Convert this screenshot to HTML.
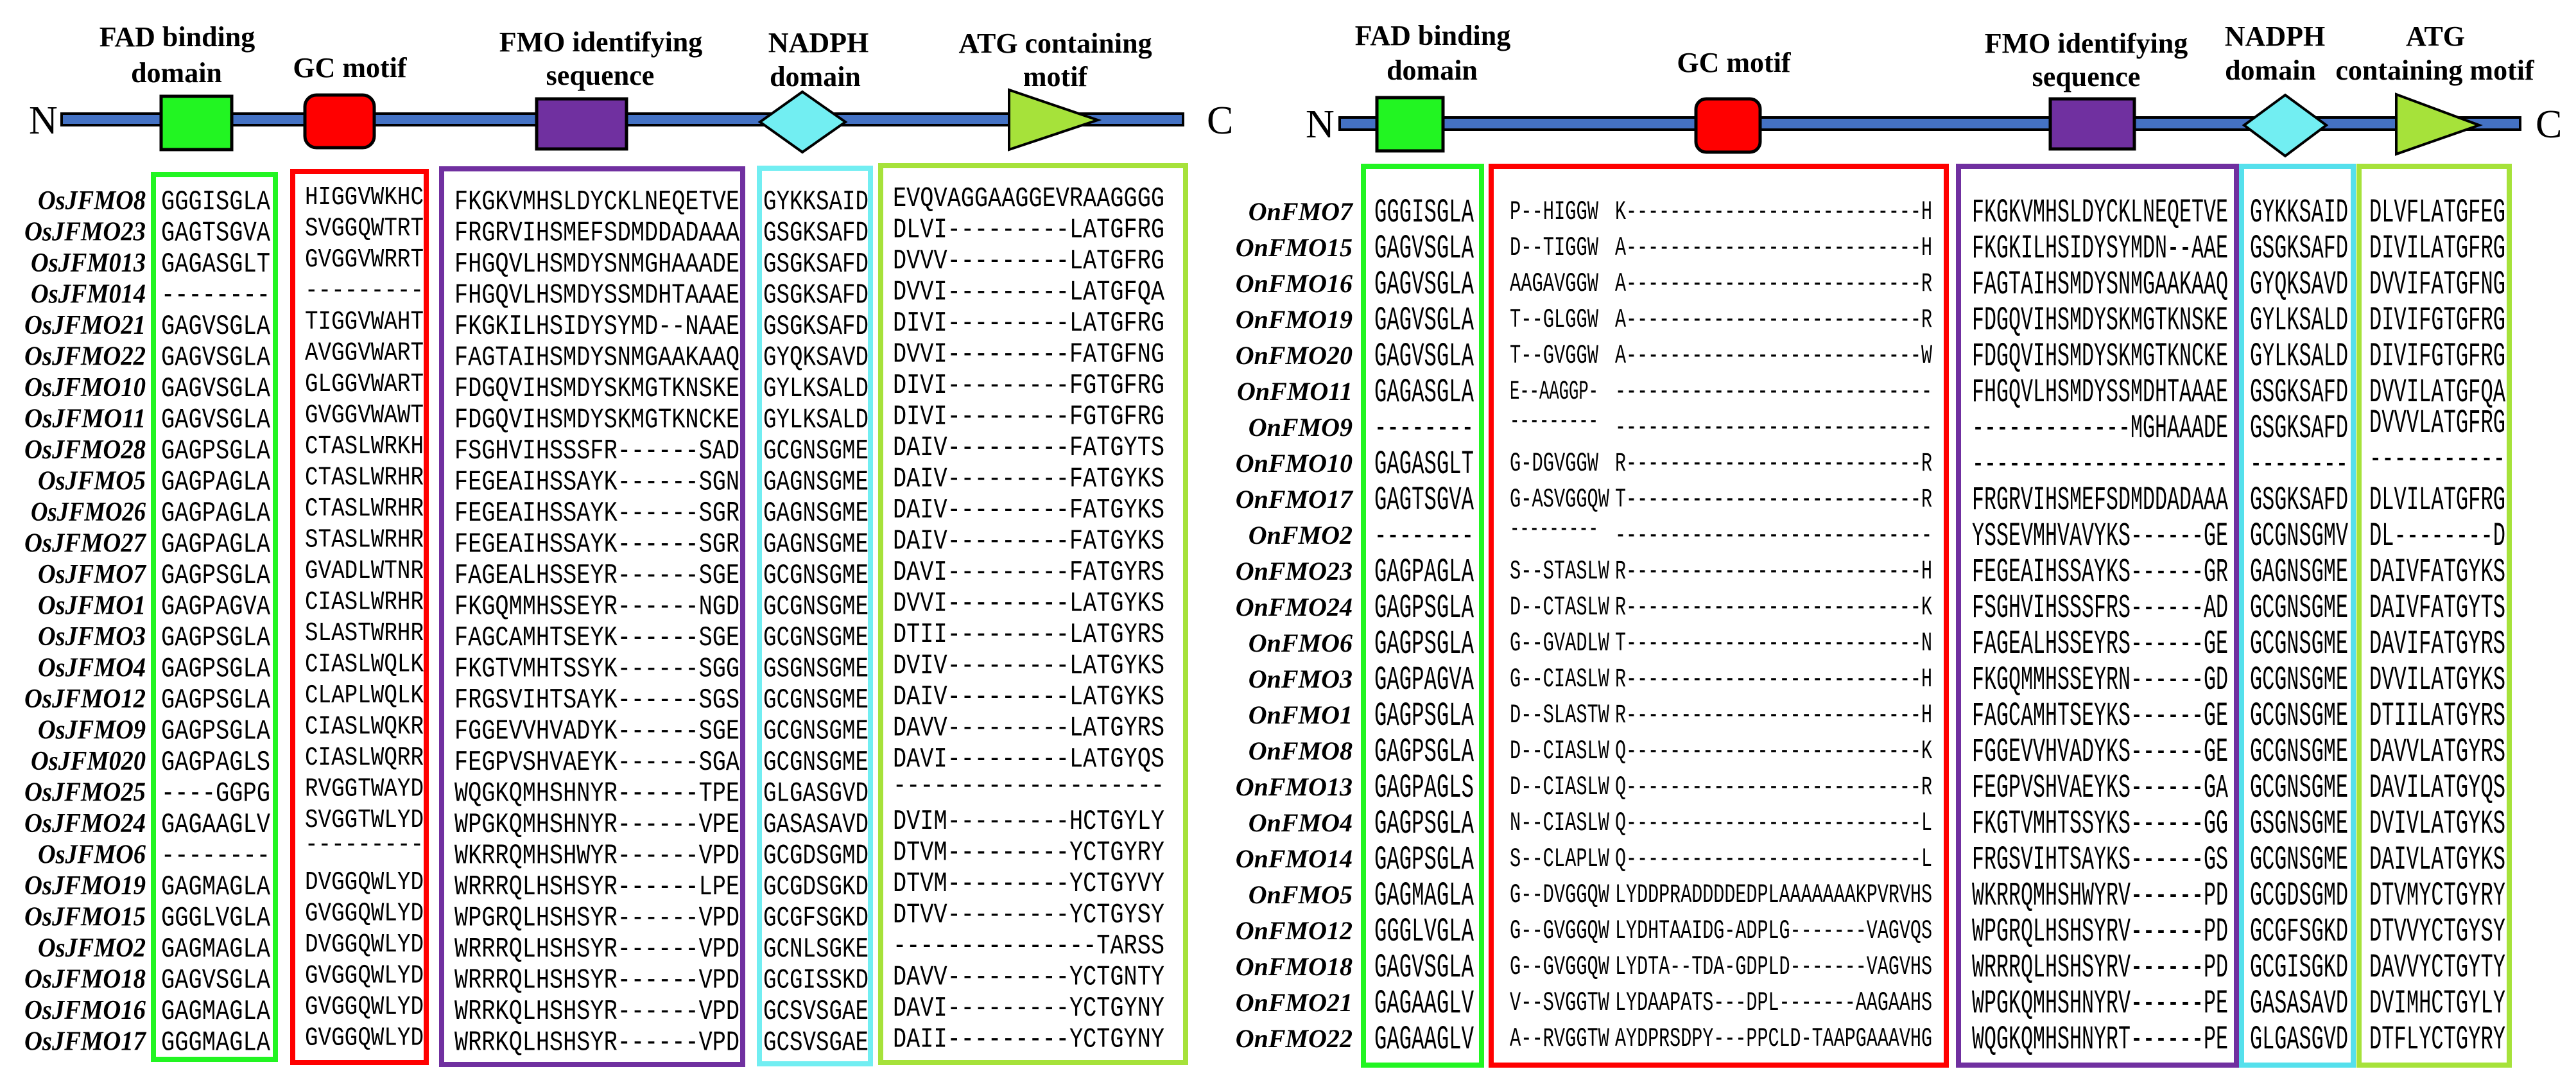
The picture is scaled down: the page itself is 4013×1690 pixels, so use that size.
<!DOCTYPE html>
<html><head><meta charset="utf-8"><style>
html,body{margin:0;padding:0;background:#fff;}
svg{display:block;}
.lab{font-family:"Liberation Serif",serif;font-weight:bold;font-size:44px;text-anchor:middle;fill:#000;}
.nc{font-family:"Liberation Serif",serif;font-size:62px;fill:#000;}
.ln{font-family:"Liberation Serif",serif;font-weight:bold;font-style:italic;font-size:42px;text-anchor:end;fill:#000;}
.rn{font-family:"Liberation Serif",serif;font-weight:bold;font-style:italic;font-size:40px;text-anchor:end;fill:#000;}
.ls{font-family:"Liberation Mono",monospace;font-size:44px;fill:#000;}
.lr{font-family:"Liberation Mono",monospace;font-size:41px;fill:#000;}
.rs{font-family:"Liberation Mono",monospace;font-size:52px;fill:#000;}
.rr{font-family:"Liberation Mono",monospace;font-size:42px;fill:#000;}
</style></head><body>
<svg width="4013" height="1690" viewBox="0 0 4013 1690" xmlns="http://www.w3.org/2000/svg">
<rect width="4013" height="1690" fill="#fff"/>
<!-- LEFT header -->
<text class="lab" x="276" y="72">FAD binding</text>
<text class="lab" x="275" y="128">domain</text>
<text class="lab" x="545" y="120">GC motif</text>
<text class="lab" x="936" y="80">FMO identifying</text>
<text class="lab" x="935" y="132">sequence</text>
<text class="lab" x="1275" y="81">NADPH</text>
<text class="lab" x="1270" y="134">domain</text>
<text class="lab" x="1644" y="82">ATG containing</text>
<text class="lab" x="1644" y="134">motif</text>
<text class="nc" x="45" y="208">N</text>
<text class="nc" x="1880" y="208">C</text>
<rect x="96" y="177" width="1747" height="18" fill="#4472c4" stroke="#000" stroke-width="4"/>
<rect x="251" y="150" width="110" height="83" fill="#22f522" stroke="#000" stroke-width="5"/>
<rect x="475" y="148" width="108" height="82" rx="18" fill="#ff0000" stroke="#000" stroke-width="5"/>
<rect x="836" y="154" width="140" height="78" fill="#7030a0" stroke="#000" stroke-width="5"/>
<polygon points="1250,143 1317,190 1250,237 1184,190" fill="#72eef2" stroke="#000" stroke-width="4"/>
<polygon points="1572,140 1710,187 1572,233" fill="#a6e23a" stroke="#000" stroke-width="4"/>
<!-- LEFT boxes -->
<rect x="239" y="272" width="190" height="1378" fill="none" stroke="#22f522" stroke-width="8"/>
<rect x="456" y="267" width="208" height="1388" fill="none" stroke="#ff0000" stroke-width="8"/>
<rect x="688" y="263" width="469" height="1395" fill="none" stroke="#7030a0" stroke-width="8"/>
<rect x="1183" y="262" width="173" height="1395" fill="none" stroke="#72eef2" stroke-width="8"/>
<rect x="1372" y="258" width="475" height="1397" fill="none" stroke="#a6e23a" stroke-width="8"/>

<!-- RIGHT header -->
<text class="lab" x="2232" y="70">FAD binding</text>
<text class="lab" x="2231" y="124">domain</text>
<text class="lab" x="2701" y="112">GC motif</text>
<text class="lab" x="3250" y="82">FMO identifying</text>
<text class="lab" x="3250" y="134">sequence</text>
<text class="lab" x="3544" y="71">NADPH</text>
<text class="lab" x="3537" y="124">domain</text>
<text class="lab" x="3794" y="71">ATG</text>
<text class="lab" x="3793" y="124">containing motif</text>
<text class="nc" x="2034" y="214">N</text>
<text class="nc" x="3950" y="214">C</text>
<rect x="2087" y="183" width="1839" height="19" fill="#4472c4" stroke="#000" stroke-width="4"/>
<rect x="2145" y="152" width="103" height="83" fill="#22f522" stroke="#000" stroke-width="5"/>
<rect x="2642" y="154" width="100" height="83" rx="16" fill="#ff0000" stroke="#000" stroke-width="5"/>
<rect x="3194" y="154" width="131" height="78" fill="#7030a0" stroke="#000" stroke-width="5"/>
<polygon points="3560,148 3624,195 3560,243 3496,195" fill="#72eef2" stroke="#000" stroke-width="4"/>
<polygon points="3733,147 3862,195 3733,240" fill="#a6e23a" stroke="#000" stroke-width="4"/>
<rect x="2124" y="259" width="184" height="1400" fill="none" stroke="#22f522" stroke-width="8"/>
<rect x="2323" y="259" width="709" height="1400" fill="none" stroke="#ff0000" stroke-width="8"/>
<rect x="3051" y="259" width="433" height="1400" fill="none" stroke="#7030a0" stroke-width="8"/>
<rect x="3492" y="259" width="174" height="1400" fill="none" stroke="#55e0ec" stroke-width="8"/>
<rect x="3675" y="259" width="234" height="1400" fill="none" stroke="#a6e23a" stroke-width="8"/>

<!-- LEFT rows -->
<g lengthAdjust="spacingAndGlyphs">
<g transform="translate(0,326)"><text class="ln" x="227" textLength="168" lengthAdjust="spacingAndGlyphs">OsJFMO8</text><text class="ls" x="251" textLength="170" lengthAdjust="spacingAndGlyphs">GGGISGLA</text><text class="lr" x="475" y="-8" textLength="185" lengthAdjust="spacingAndGlyphs">HIGGVWKHC</text><text class="ls" x="708" textLength="444" lengthAdjust="spacingAndGlyphs">FKGKVMHSLDYCKLNEQETVE</text><text class="ls" x="1189" textLength="164" lengthAdjust="spacingAndGlyphs">GYKKSAID</text><text class="ls" x="1391" y="-5" textLength="423" lengthAdjust="spacingAndGlyphs">EVQVAGGAAGGEVRAAGGGG</text></g>
<g transform="translate(0,374.5)"><text class="ln" x="227" textLength="189" lengthAdjust="spacingAndGlyphs">OsJFMO23</text><text class="ls" x="251" textLength="170" lengthAdjust="spacingAndGlyphs">GAGTSGVA</text><text class="lr" x="475" y="-8" textLength="185" lengthAdjust="spacingAndGlyphs">SVGGQWTRT</text><text class="ls" x="708" textLength="444" lengthAdjust="spacingAndGlyphs">FRGRVIHSMEFSDMDDADAAA</text><text class="ls" x="1189" textLength="164" lengthAdjust="spacingAndGlyphs">GSGKSAFD</text><text class="ls" x="1391" y="-5" textLength="423" lengthAdjust="spacingAndGlyphs">DLVI---------LATGFRG</text></g>
<g transform="translate(0,423)"><text class="ln" x="227" textLength="179" lengthAdjust="spacingAndGlyphs">OsJFM013</text><text class="ls" x="251" textLength="170" lengthAdjust="spacingAndGlyphs">GAGASGLT</text><text class="lr" x="475" y="-8" textLength="185" lengthAdjust="spacingAndGlyphs">GVGGVWRRT</text><text class="ls" x="708" textLength="444" lengthAdjust="spacingAndGlyphs">FHGQVLHSMDYSNMGHAAADE</text><text class="ls" x="1189" textLength="164" lengthAdjust="spacingAndGlyphs">GSGKSAFD</text><text class="ls" x="1391" y="-5" textLength="423" lengthAdjust="spacingAndGlyphs">DVVV---------LATGFRG</text></g>
<g transform="translate(0,471.5)"><text class="ln" x="227" textLength="179" lengthAdjust="spacingAndGlyphs">OsJFM014</text><text class="ls" x="251" textLength="170" lengthAdjust="spacingAndGlyphs">--------</text><text class="lr" x="475" y="-8" textLength="185" lengthAdjust="spacingAndGlyphs">---------</text><text class="ls" x="708" textLength="444" lengthAdjust="spacingAndGlyphs">FHGQVLHSMDYSSMDHTAAAE</text><text class="ls" x="1189" textLength="164" lengthAdjust="spacingAndGlyphs">GSGKSAFD</text><text class="ls" x="1391" y="-5" textLength="423" lengthAdjust="spacingAndGlyphs">DVVI---------LATGFQA</text></g>
<g transform="translate(0,520)"><text class="ln" x="227" textLength="189" lengthAdjust="spacingAndGlyphs">OsJFMO21</text><text class="ls" x="251" textLength="170" lengthAdjust="spacingAndGlyphs">GAGVSGLA</text><text class="lr" x="475" y="-8" textLength="185" lengthAdjust="spacingAndGlyphs">TIGGVWAHT</text><text class="ls" x="708" textLength="444" lengthAdjust="spacingAndGlyphs">FKGKILHSIDYSYMD--NAAE</text><text class="ls" x="1189" textLength="164" lengthAdjust="spacingAndGlyphs">GSGKSAFD</text><text class="ls" x="1391" y="-5" textLength="423" lengthAdjust="spacingAndGlyphs">DIVI---------LATGFRG</text></g>
<g transform="translate(0,568.5)"><text class="ln" x="227" textLength="189" lengthAdjust="spacingAndGlyphs">OsJFMO22</text><text class="ls" x="251" textLength="170" lengthAdjust="spacingAndGlyphs">GAGVSGLA</text><text class="lr" x="475" y="-8" textLength="185" lengthAdjust="spacingAndGlyphs">AVGGVWART</text><text class="ls" x="708" textLength="444" lengthAdjust="spacingAndGlyphs">FAGTAIHSMDYSNMGAAKAAQ</text><text class="ls" x="1189" textLength="164" lengthAdjust="spacingAndGlyphs">GYQKSAVD</text><text class="ls" x="1391" y="-5" textLength="423" lengthAdjust="spacingAndGlyphs">DVVI---------FATGFNG</text></g>
<g transform="translate(0,617)"><text class="ln" x="227" textLength="189" lengthAdjust="spacingAndGlyphs">OsJFMO10</text><text class="ls" x="251" textLength="170" lengthAdjust="spacingAndGlyphs">GAGVSGLA</text><text class="lr" x="475" y="-8" textLength="185" lengthAdjust="spacingAndGlyphs">GLGGVWART</text><text class="ls" x="708" textLength="444" lengthAdjust="spacingAndGlyphs">FDGQVIHSMDYSKMGTKNSKE</text><text class="ls" x="1189" textLength="164" lengthAdjust="spacingAndGlyphs">GYLKSALD</text><text class="ls" x="1391" y="-5" textLength="423" lengthAdjust="spacingAndGlyphs">DIVI---------FGTGFRG</text></g>
<g transform="translate(0,665.5)"><text class="ln" x="227" textLength="189" lengthAdjust="spacingAndGlyphs">OsJFMO11</text><text class="ls" x="251" textLength="170" lengthAdjust="spacingAndGlyphs">GAGVSGLA</text><text class="lr" x="475" y="-8" textLength="185" lengthAdjust="spacingAndGlyphs">GVGGVWAWT</text><text class="ls" x="708" textLength="444" lengthAdjust="spacingAndGlyphs">FDGQVIHSMDYSKMGTKNCKE</text><text class="ls" x="1189" textLength="164" lengthAdjust="spacingAndGlyphs">GYLKSALD</text><text class="ls" x="1391" y="-5" textLength="423" lengthAdjust="spacingAndGlyphs">DIVI---------FGTGFRG</text></g>
<g transform="translate(0,714)"><text class="ln" x="227" textLength="189" lengthAdjust="spacingAndGlyphs">OsJFMO28</text><text class="ls" x="251" textLength="170" lengthAdjust="spacingAndGlyphs">GAGPSGLA</text><text class="lr" x="475" y="-8" textLength="185" lengthAdjust="spacingAndGlyphs">CTASLWRKH</text><text class="ls" x="708" textLength="444" lengthAdjust="spacingAndGlyphs">FSGHVIHSSSFR------SAD</text><text class="ls" x="1189" textLength="164" lengthAdjust="spacingAndGlyphs">GCGNSGME</text><text class="ls" x="1391" y="-5" textLength="423" lengthAdjust="spacingAndGlyphs">DAIV---------FATGYTS</text></g>
<g transform="translate(0,762.5)"><text class="ln" x="227" textLength="168" lengthAdjust="spacingAndGlyphs">OsJFMO5</text><text class="ls" x="251" textLength="170" lengthAdjust="spacingAndGlyphs">GAGPAGLA</text><text class="lr" x="475" y="-8" textLength="185" lengthAdjust="spacingAndGlyphs">CTASLWRHR</text><text class="ls" x="708" textLength="444" lengthAdjust="spacingAndGlyphs">FEGEAIHSSAYK------SGN</text><text class="ls" x="1189" textLength="164" lengthAdjust="spacingAndGlyphs">GAGNSGME</text><text class="ls" x="1391" y="-5" textLength="423" lengthAdjust="spacingAndGlyphs">DAIV---------FATGYKS</text></g>
<g transform="translate(0,811)"><text class="ln" x="227" textLength="179" lengthAdjust="spacingAndGlyphs">OsJFMO26</text><text class="ls" x="251" textLength="170" lengthAdjust="spacingAndGlyphs">GAGPAGLA</text><text class="lr" x="475" y="-8" textLength="185" lengthAdjust="spacingAndGlyphs">CTASLWRHR</text><text class="ls" x="708" textLength="444" lengthAdjust="spacingAndGlyphs">FEGEAIHSSAYK------SGR</text><text class="ls" x="1189" textLength="164" lengthAdjust="spacingAndGlyphs">GAGNSGME</text><text class="ls" x="1391" y="-5" textLength="423" lengthAdjust="spacingAndGlyphs">DAIV---------FATGYKS</text></g>
<g transform="translate(0,859.5)"><text class="ln" x="227" textLength="189" lengthAdjust="spacingAndGlyphs">OsJFMO27</text><text class="ls" x="251" textLength="170" lengthAdjust="spacingAndGlyphs">GAGPAGLA</text><text class="lr" x="475" y="-8" textLength="185" lengthAdjust="spacingAndGlyphs">STASLWRHR</text><text class="ls" x="708" textLength="444" lengthAdjust="spacingAndGlyphs">FEGEAIHSSAYK------SGR</text><text class="ls" x="1189" textLength="164" lengthAdjust="spacingAndGlyphs">GAGNSGME</text><text class="ls" x="1391" y="-5" textLength="423" lengthAdjust="spacingAndGlyphs">DAIV---------FATGYKS</text></g>
<g transform="translate(0,908)"><text class="ln" x="227" textLength="168" lengthAdjust="spacingAndGlyphs">OsJFMO7</text><text class="ls" x="251" textLength="170" lengthAdjust="spacingAndGlyphs">GAGPSGLA</text><text class="lr" x="475" y="-8" textLength="185" lengthAdjust="spacingAndGlyphs">GVADLWTNR</text><text class="ls" x="708" textLength="444" lengthAdjust="spacingAndGlyphs">FAGEALHSSEYR------SGE</text><text class="ls" x="1189" textLength="164" lengthAdjust="spacingAndGlyphs">GCGNSGME</text><text class="ls" x="1391" y="-5" textLength="423" lengthAdjust="spacingAndGlyphs">DAVI---------FATGYRS</text></g>
<g transform="translate(0,956.5)"><text class="ln" x="227" textLength="168" lengthAdjust="spacingAndGlyphs">OsJFMO1</text><text class="ls" x="251" textLength="170" lengthAdjust="spacingAndGlyphs">GAGPAGVA</text><text class="lr" x="475" y="-8" textLength="185" lengthAdjust="spacingAndGlyphs">CIASLWRHR</text><text class="ls" x="708" textLength="444" lengthAdjust="spacingAndGlyphs">FKGQMMHSSEYR------NGD</text><text class="ls" x="1189" textLength="164" lengthAdjust="spacingAndGlyphs">GCGNSGME</text><text class="ls" x="1391" y="-5" textLength="423" lengthAdjust="spacingAndGlyphs">DVVI---------LATGYKS</text></g>
<g transform="translate(0,1005)"><text class="ln" x="227" textLength="168" lengthAdjust="spacingAndGlyphs">OsJFMO3</text><text class="ls" x="251" textLength="170" lengthAdjust="spacingAndGlyphs">GAGPSGLA</text><text class="lr" x="475" y="-8" textLength="185" lengthAdjust="spacingAndGlyphs">SLASTWRHR</text><text class="ls" x="708" textLength="444" lengthAdjust="spacingAndGlyphs">FAGCAMHTSEYK------SGE</text><text class="ls" x="1189" textLength="164" lengthAdjust="spacingAndGlyphs">GCGNSGME</text><text class="ls" x="1391" y="-5" textLength="423" lengthAdjust="spacingAndGlyphs">DTII---------LATGYRS</text></g>
<g transform="translate(0,1053.5)"><text class="ln" x="227" textLength="168" lengthAdjust="spacingAndGlyphs">OsJFMO4</text><text class="ls" x="251" textLength="170" lengthAdjust="spacingAndGlyphs">GAGPSGLA</text><text class="lr" x="475" y="-8" textLength="185" lengthAdjust="spacingAndGlyphs">CIASLWQLK</text><text class="ls" x="708" textLength="444" lengthAdjust="spacingAndGlyphs">FKGTVMHTSSYK------SGG</text><text class="ls" x="1189" textLength="164" lengthAdjust="spacingAndGlyphs">GSGNSGME</text><text class="ls" x="1391" y="-5" textLength="423" lengthAdjust="spacingAndGlyphs">DVIV---------LATGYKS</text></g>
<g transform="translate(0,1102)"><text class="ln" x="227" textLength="189" lengthAdjust="spacingAndGlyphs">OsJFMO12</text><text class="ls" x="251" textLength="170" lengthAdjust="spacingAndGlyphs">GAGPSGLA</text><text class="lr" x="475" y="-8" textLength="185" lengthAdjust="spacingAndGlyphs">CLAPLWQLK</text><text class="ls" x="708" textLength="444" lengthAdjust="spacingAndGlyphs">FRGSVIHTSAYK------SGS</text><text class="ls" x="1189" textLength="164" lengthAdjust="spacingAndGlyphs">GCGNSGME</text><text class="ls" x="1391" y="-5" textLength="423" lengthAdjust="spacingAndGlyphs">DAIV---------LATGYKS</text></g>
<g transform="translate(0,1150.5)"><text class="ln" x="227" textLength="168" lengthAdjust="spacingAndGlyphs">OsJFMO9</text><text class="ls" x="251" textLength="170" lengthAdjust="spacingAndGlyphs">GAGPSGLA</text><text class="lr" x="475" y="-8" textLength="185" lengthAdjust="spacingAndGlyphs">CIASLWQKR</text><text class="ls" x="708" textLength="444" lengthAdjust="spacingAndGlyphs">FGGEVVHVADYK------SGE</text><text class="ls" x="1189" textLength="164" lengthAdjust="spacingAndGlyphs">GCGNSGME</text><text class="ls" x="1391" y="-5" textLength="423" lengthAdjust="spacingAndGlyphs">DAVV---------LATGYRS</text></g>
<g transform="translate(0,1199)"><text class="ln" x="227" textLength="179" lengthAdjust="spacingAndGlyphs">OsJFM020</text><text class="ls" x="251" textLength="170" lengthAdjust="spacingAndGlyphs">GAGPAGLS</text><text class="lr" x="475" y="-8" textLength="185" lengthAdjust="spacingAndGlyphs">CIASLWQRR</text><text class="ls" x="708" textLength="444" lengthAdjust="spacingAndGlyphs">FEGPVSHVAEYK------SGA</text><text class="ls" x="1189" textLength="164" lengthAdjust="spacingAndGlyphs">GCGNSGME</text><text class="ls" x="1391" y="-5" textLength="423" lengthAdjust="spacingAndGlyphs">DAVI---------LATGYQS</text></g>
<g transform="translate(0,1247.5)"><text class="ln" x="227" textLength="189" lengthAdjust="spacingAndGlyphs">OsJFMO25</text><text class="ls" x="251" textLength="170" lengthAdjust="spacingAndGlyphs">----GGPG</text><text class="lr" x="475" y="-8" textLength="185" lengthAdjust="spacingAndGlyphs">RVGGTWAYD</text><text class="ls" x="708" textLength="444" lengthAdjust="spacingAndGlyphs">WQGKQMHSHNYR------TPE</text><text class="ls" x="1189" textLength="164" lengthAdjust="spacingAndGlyphs">GLGASGVD</text><text class="ls" x="1391" y="-12" textLength="423" lengthAdjust="spacingAndGlyphs">--------------------</text></g>
<g transform="translate(0,1296)"><text class="ln" x="227" textLength="189" lengthAdjust="spacingAndGlyphs">OsJFMO24</text><text class="ls" x="251" textLength="170" lengthAdjust="spacingAndGlyphs">GAGAAGLV</text><text class="lr" x="475" y="-8" textLength="185" lengthAdjust="spacingAndGlyphs">SVGGTWLYD</text><text class="ls" x="708" textLength="444" lengthAdjust="spacingAndGlyphs">WPGKQMHSHNYR------VPE</text><text class="ls" x="1189" textLength="164" lengthAdjust="spacingAndGlyphs">GASASAVD</text><text class="ls" x="1391" y="-5" textLength="423" lengthAdjust="spacingAndGlyphs">DVIM---------HCTGYLY</text></g>
<g transform="translate(0,1344.5)"><text class="ln" x="227" textLength="168" lengthAdjust="spacingAndGlyphs">OsJFMO6</text><text class="ls" x="251" textLength="170" lengthAdjust="spacingAndGlyphs">--------</text><text class="lr" x="475" y="-18" textLength="185" lengthAdjust="spacingAndGlyphs">---------</text><text class="ls" x="708" textLength="444" lengthAdjust="spacingAndGlyphs">WKRRQMHSHWYR------VPD</text><text class="ls" x="1189" textLength="164" lengthAdjust="spacingAndGlyphs">GCGDSGMD</text><text class="ls" x="1391" y="-5" textLength="423" lengthAdjust="spacingAndGlyphs">DTVM---------YCTGYRY</text></g>
<g transform="translate(0,1393)"><text class="ln" x="227" textLength="189" lengthAdjust="spacingAndGlyphs">OsJFMO19</text><text class="ls" x="251" textLength="170" lengthAdjust="spacingAndGlyphs">GAGMAGLA</text><text class="lr" x="475" y="-8" textLength="185" lengthAdjust="spacingAndGlyphs">DVGGQWLYD</text><text class="ls" x="708" textLength="444" lengthAdjust="spacingAndGlyphs">WRRRQLHSHSYR------LPE</text><text class="ls" x="1189" textLength="164" lengthAdjust="spacingAndGlyphs">GCGDSGKD</text><text class="ls" x="1391" y="-5" textLength="423" lengthAdjust="spacingAndGlyphs">DTVM---------YCTGYVY</text></g>
<g transform="translate(0,1441.5)"><text class="ln" x="227" textLength="189" lengthAdjust="spacingAndGlyphs">OsJFMO15</text><text class="ls" x="251" textLength="170" lengthAdjust="spacingAndGlyphs">GGGLVGLA</text><text class="lr" x="475" y="-8" textLength="185" lengthAdjust="spacingAndGlyphs">GVGGQWLYD</text><text class="ls" x="708" textLength="444" lengthAdjust="spacingAndGlyphs">WPGRQLHSHSYR------VPD</text><text class="ls" x="1189" textLength="164" lengthAdjust="spacingAndGlyphs">GCGFSGKD</text><text class="ls" x="1391" y="-5" textLength="423" lengthAdjust="spacingAndGlyphs">DTVV---------YCTGYSY</text></g>
<g transform="translate(0,1490)"><text class="ln" x="227" textLength="168" lengthAdjust="spacingAndGlyphs">OsJFMO2</text><text class="ls" x="251" textLength="170" lengthAdjust="spacingAndGlyphs">GAGMAGLA</text><text class="lr" x="475" y="-8" textLength="185" lengthAdjust="spacingAndGlyphs">DVGGQWLYD</text><text class="ls" x="708" textLength="444" lengthAdjust="spacingAndGlyphs">WRRRQLHSHSYR------VPD</text><text class="ls" x="1189" textLength="164" lengthAdjust="spacingAndGlyphs">GCNLSGKE</text><text class="ls" x="1391" y="-5" textLength="423" lengthAdjust="spacingAndGlyphs">---------------TARSS</text></g>
<g transform="translate(0,1538.5)"><text class="ln" x="227" textLength="189" lengthAdjust="spacingAndGlyphs">OsJFMO18</text><text class="ls" x="251" textLength="170" lengthAdjust="spacingAndGlyphs">GAGVSGLA</text><text class="lr" x="475" y="-8" textLength="185" lengthAdjust="spacingAndGlyphs">GVGGQWLYD</text><text class="ls" x="708" textLength="444" lengthAdjust="spacingAndGlyphs">WRRRQLHSHSYR------VPD</text><text class="ls" x="1189" textLength="164" lengthAdjust="spacingAndGlyphs">GCGISSKD</text><text class="ls" x="1391" y="-5" textLength="423" lengthAdjust="spacingAndGlyphs">DAVV---------YCTGNTY</text></g>
<g transform="translate(0,1587)"><text class="ln" x="227" textLength="189" lengthAdjust="spacingAndGlyphs">OsJFMO16</text><text class="ls" x="251" textLength="170" lengthAdjust="spacingAndGlyphs">GAGMAGLA</text><text class="lr" x="475" y="-8" textLength="185" lengthAdjust="spacingAndGlyphs">GVGGQWLYD</text><text class="ls" x="708" textLength="444" lengthAdjust="spacingAndGlyphs">WRRKQLHSHSYR------VPD</text><text class="ls" x="1189" textLength="164" lengthAdjust="spacingAndGlyphs">GCSVSGAE</text><text class="ls" x="1391" y="-5" textLength="423" lengthAdjust="spacingAndGlyphs">DAVI---------YCTGYNY</text></g>
<g transform="translate(0,1635.5)"><text class="ln" x="227" textLength="189" lengthAdjust="spacingAndGlyphs">OsJFMO17</text><text class="ls" x="251" textLength="170" lengthAdjust="spacingAndGlyphs">GGGMAGLA</text><text class="lr" x="475" y="-8" textLength="185" lengthAdjust="spacingAndGlyphs">GVGGQWLYD</text><text class="ls" x="708" textLength="444" lengthAdjust="spacingAndGlyphs">WRRKQLHSHSYR------VPD</text><text class="ls" x="1189" textLength="164" lengthAdjust="spacingAndGlyphs">GCSVSGAE</text><text class="ls" x="1391" y="-5" textLength="423" lengthAdjust="spacingAndGlyphs">DAII---------YCTGYNY</text></g>
</g>

<!-- RIGHT rows -->
<g transform="translate(0,345)"><text class="rn" x="2107" y="-2">OnFMO7</text><text class="rs" x="2141" textLength="155" lengthAdjust="spacingAndGlyphs">GGGISGLA</text><text class="rr" x="2352" y="-4" textLength="138" lengthAdjust="spacingAndGlyphs">P--HIGGW</text><text class="rr" x="2516" y="-4" textLength="494" lengthAdjust="spacingAndGlyphs">K---------------------------H</text><text class="rs" x="3072" textLength="399" lengthAdjust="spacingAndGlyphs">FKGKVMHSLDYCKLNEQETVE</text><text class="rs" x="3505" textLength="153" lengthAdjust="spacingAndGlyphs">GYKKSAID</text><text class="rs" x="3691" textLength="212" lengthAdjust="spacingAndGlyphs">DLVFLATGFEG</text></g>
<g transform="translate(0,401)"><text class="rn" x="2107" y="-2">OnFMO15</text><text class="rs" x="2141" textLength="155" lengthAdjust="spacingAndGlyphs">GAGVSGLA</text><text class="rr" x="2352" y="-4" textLength="138" lengthAdjust="spacingAndGlyphs">D--TIGGW</text><text class="rr" x="2516" y="-4" textLength="494" lengthAdjust="spacingAndGlyphs">A---------------------------H</text><text class="rs" x="3072" textLength="399" lengthAdjust="spacingAndGlyphs">FKGKILHSIDYSYMDN--AAE</text><text class="rs" x="3505" textLength="153" lengthAdjust="spacingAndGlyphs">GSGKSAFD</text><text class="rs" x="3691" textLength="212" lengthAdjust="spacingAndGlyphs">DIVILATGFRG</text></g>
<g transform="translate(0,457)"><text class="rn" x="2107" y="-2">OnFMO16</text><text class="rs" x="2141" textLength="155" lengthAdjust="spacingAndGlyphs">GAGVSGLA</text><text class="rr" x="2352" y="-4" textLength="138" lengthAdjust="spacingAndGlyphs">AAGAVGGW</text><text class="rr" x="2516" y="-4" textLength="494" lengthAdjust="spacingAndGlyphs">A---------------------------R</text><text class="rs" x="3072" textLength="399" lengthAdjust="spacingAndGlyphs">FAGTAIHSMDYSNMGAAKAAQ</text><text class="rs" x="3505" textLength="153" lengthAdjust="spacingAndGlyphs">GYQKSAVD</text><text class="rs" x="3691" textLength="212" lengthAdjust="spacingAndGlyphs">DVVIFATGFNG</text></g>
<g transform="translate(0,513)"><text class="rn" x="2107" y="-2">OnFMO19</text><text class="rs" x="2141" textLength="155" lengthAdjust="spacingAndGlyphs">GAGVSGLA</text><text class="rr" x="2352" y="-4" textLength="138" lengthAdjust="spacingAndGlyphs">T--GLGGW</text><text class="rr" x="2516" y="-4" textLength="494" lengthAdjust="spacingAndGlyphs">A---------------------------R</text><text class="rs" x="3072" textLength="399" lengthAdjust="spacingAndGlyphs">FDGQVIHSMDYSKMGTKNSKE</text><text class="rs" x="3505" textLength="153" lengthAdjust="spacingAndGlyphs">GYLKSALD</text><text class="rs" x="3691" textLength="212" lengthAdjust="spacingAndGlyphs">DIVIFGTGFRG</text></g>
<g transform="translate(0,569)"><text class="rn" x="2107" y="-2">OnFMO20</text><text class="rs" x="2141" textLength="155" lengthAdjust="spacingAndGlyphs">GAGVSGLA</text><text class="rr" x="2352" y="-4" textLength="138" lengthAdjust="spacingAndGlyphs">T--GVGGW</text><text class="rr" x="2516" y="-4" textLength="494" lengthAdjust="spacingAndGlyphs">A---------------------------W</text><text class="rs" x="3072" textLength="399" lengthAdjust="spacingAndGlyphs">FDGQVIHSMDYSKMGTKNCKE</text><text class="rs" x="3505" textLength="153" lengthAdjust="spacingAndGlyphs">GYLKSALD</text><text class="rs" x="3691" textLength="212" lengthAdjust="spacingAndGlyphs">DIVIFGTGFRG</text></g>
<g transform="translate(0,625)"><text class="rn" x="2107" y="-2">OnFMO11</text><text class="rs" x="2141" textLength="155" lengthAdjust="spacingAndGlyphs">GAGASGLA</text><text class="rr" x="2352" y="-4" textLength="138" lengthAdjust="spacingAndGlyphs">E--AAGGP-</text><text class="rr" x="2516" y="-4" textLength="494" lengthAdjust="spacingAndGlyphs">-----------------------------</text><text class="rs" x="3072" textLength="399" lengthAdjust="spacingAndGlyphs">FHGQVLHSMDYSSMDHTAAAE</text><text class="rs" x="3505" textLength="153" lengthAdjust="spacingAndGlyphs">GSGKSAFD</text><text class="rs" x="3691" textLength="212" lengthAdjust="spacingAndGlyphs">DVVILATGFQA</text></g>
<g transform="translate(0,681)"><text class="rn" x="2107" y="-2">OnFMO9</text><text class="rs" x="2141" textLength="155" lengthAdjust="spacingAndGlyphs">--------</text><text class="rr" x="2352" y="-14" textLength="138" lengthAdjust="spacingAndGlyphs">---------</text><text class="rr" x="2516" y="-4" textLength="494" lengthAdjust="spacingAndGlyphs">-----------------------------</text><text class="rs" x="3072" textLength="399" lengthAdjust="spacingAndGlyphs">-------------MGHAAADE</text><text class="rs" x="3505" textLength="153" lengthAdjust="spacingAndGlyphs">GSGKSAFD</text><text class="rs" x="3691" y="-8" textLength="212" lengthAdjust="spacingAndGlyphs">DVVVLATGFRG</text></g>
<g transform="translate(0,737)"><text class="rn" x="2107" y="-2">OnFMO10</text><text class="rs" x="2141" textLength="155" lengthAdjust="spacingAndGlyphs">GAGASGLT</text><text class="rr" x="2352" y="-4" textLength="138" lengthAdjust="spacingAndGlyphs">G-DGVGGW</text><text class="rr" x="2516" y="-4" textLength="494" lengthAdjust="spacingAndGlyphs">R---------------------------R</text><text class="rs" x="3072" textLength="399" lengthAdjust="spacingAndGlyphs">---------------------</text><text class="rs" x="3505" textLength="153" lengthAdjust="spacingAndGlyphs">--------</text><text class="rs" x="3691" y="-8" textLength="212" lengthAdjust="spacingAndGlyphs">-----------</text></g>
<g transform="translate(0,793)"><text class="rn" x="2107" y="-2">OnFMO17</text><text class="rs" x="2141" textLength="155" lengthAdjust="spacingAndGlyphs">GAGTSGVA</text><text class="rr" x="2352" y="-4" textLength="155" lengthAdjust="spacingAndGlyphs">G-ASVGGQW</text><text class="rr" x="2516" y="-4" textLength="494" lengthAdjust="spacingAndGlyphs">T---------------------------R</text><text class="rs" x="3072" textLength="399" lengthAdjust="spacingAndGlyphs">FRGRVIHSMEFSDMDDADAAA</text><text class="rs" x="3505" textLength="153" lengthAdjust="spacingAndGlyphs">GSGKSAFD</text><text class="rs" x="3691" textLength="212" lengthAdjust="spacingAndGlyphs">DLVILATGFRG</text></g>
<g transform="translate(0,849)"><text class="rn" x="2107" y="-2">OnFMO2</text><text class="rs" x="2141" textLength="155" lengthAdjust="spacingAndGlyphs">--------</text><text class="rr" x="2352" y="-14" textLength="138" lengthAdjust="spacingAndGlyphs">---------</text><text class="rr" x="2516" y="-4" textLength="494" lengthAdjust="spacingAndGlyphs">-----------------------------</text><text class="rs" x="3072" textLength="399" lengthAdjust="spacingAndGlyphs">YSSEVMHVAVYKS------GE</text><text class="rs" x="3505" textLength="153" lengthAdjust="spacingAndGlyphs">GCGNSGMV</text><text class="rs" x="3691" textLength="212" lengthAdjust="spacingAndGlyphs">DL--------D</text></g>
<g transform="translate(0,905)"><text class="rn" x="2107" y="-2">OnFMO23</text><text class="rs" x="2141" textLength="155" lengthAdjust="spacingAndGlyphs">GAGPAGLA</text><text class="rr" x="2352" y="-4" textLength="155" lengthAdjust="spacingAndGlyphs">S--STASLW</text><text class="rr" x="2516" y="-4" textLength="494" lengthAdjust="spacingAndGlyphs">R---------------------------H</text><text class="rs" x="3072" textLength="399" lengthAdjust="spacingAndGlyphs">FEGEAIHSSAYKS------GR</text><text class="rs" x="3505" textLength="153" lengthAdjust="spacingAndGlyphs">GAGNSGME</text><text class="rs" x="3691" textLength="212" lengthAdjust="spacingAndGlyphs">DAIVFATGYKS</text></g>
<g transform="translate(0,961)"><text class="rn" x="2107" y="-2">OnFMO24</text><text class="rs" x="2141" textLength="155" lengthAdjust="spacingAndGlyphs">GAGPSGLA</text><text class="rr" x="2352" y="-4" textLength="155" lengthAdjust="spacingAndGlyphs">D--CTASLW</text><text class="rr" x="2516" y="-4" textLength="494" lengthAdjust="spacingAndGlyphs">R---------------------------K</text><text class="rs" x="3072" textLength="399" lengthAdjust="spacingAndGlyphs">FSGHVIHSSSFRS------AD</text><text class="rs" x="3505" textLength="153" lengthAdjust="spacingAndGlyphs">GCGNSGME</text><text class="rs" x="3691" textLength="212" lengthAdjust="spacingAndGlyphs">DAIVFATGYTS</text></g>
<g transform="translate(0,1017)"><text class="rn" x="2107" y="-2">OnFMO6</text><text class="rs" x="2141" textLength="155" lengthAdjust="spacingAndGlyphs">GAGPSGLA</text><text class="rr" x="2352" y="-4" textLength="155" lengthAdjust="spacingAndGlyphs">G--GVADLW</text><text class="rr" x="2516" y="-4" textLength="494" lengthAdjust="spacingAndGlyphs">T---------------------------N</text><text class="rs" x="3072" textLength="399" lengthAdjust="spacingAndGlyphs">FAGEALHSSEYRS------GE</text><text class="rs" x="3505" textLength="153" lengthAdjust="spacingAndGlyphs">GCGNSGME</text><text class="rs" x="3691" textLength="212" lengthAdjust="spacingAndGlyphs">DAVIFATGYRS</text></g>
<g transform="translate(0,1073)"><text class="rn" x="2107" y="-2">OnFMO3</text><text class="rs" x="2141" textLength="155" lengthAdjust="spacingAndGlyphs">GAGPAGVA</text><text class="rr" x="2352" y="-4" textLength="155" lengthAdjust="spacingAndGlyphs">G--CIASLW</text><text class="rr" x="2516" y="-4" textLength="494" lengthAdjust="spacingAndGlyphs">R---------------------------H</text><text class="rs" x="3072" textLength="399" lengthAdjust="spacingAndGlyphs">FKGQMMHSSEYRN------GD</text><text class="rs" x="3505" textLength="153" lengthAdjust="spacingAndGlyphs">GCGNSGME</text><text class="rs" x="3691" textLength="212" lengthAdjust="spacingAndGlyphs">DVVILATGYKS</text></g>
<g transform="translate(0,1129)"><text class="rn" x="2107" y="-2">OnFMO1</text><text class="rs" x="2141" textLength="155" lengthAdjust="spacingAndGlyphs">GAGPSGLA</text><text class="rr" x="2352" y="-4" textLength="155" lengthAdjust="spacingAndGlyphs">D--SLASTW</text><text class="rr" x="2516" y="-4" textLength="494" lengthAdjust="spacingAndGlyphs">R---------------------------H</text><text class="rs" x="3072" textLength="399" lengthAdjust="spacingAndGlyphs">FAGCAMHTSEYKS------GE</text><text class="rs" x="3505" textLength="153" lengthAdjust="spacingAndGlyphs">GCGNSGME</text><text class="rs" x="3691" textLength="212" lengthAdjust="spacingAndGlyphs">DTIILATGYRS</text></g>
<g transform="translate(0,1185)"><text class="rn" x="2107" y="-2">OnFMO8</text><text class="rs" x="2141" textLength="155" lengthAdjust="spacingAndGlyphs">GAGPSGLA</text><text class="rr" x="2352" y="-4" textLength="155" lengthAdjust="spacingAndGlyphs">D--CIASLW</text><text class="rr" x="2516" y="-4" textLength="494" lengthAdjust="spacingAndGlyphs">Q---------------------------K</text><text class="rs" x="3072" textLength="399" lengthAdjust="spacingAndGlyphs">FGGEVVHVADYKS------GE</text><text class="rs" x="3505" textLength="153" lengthAdjust="spacingAndGlyphs">GCGNSGME</text><text class="rs" x="3691" textLength="212" lengthAdjust="spacingAndGlyphs">DAVVLATGYRS</text></g>
<g transform="translate(0,1241)"><text class="rn" x="2107" y="-2">OnFMO13</text><text class="rs" x="2141" textLength="155" lengthAdjust="spacingAndGlyphs">GAGPAGLS</text><text class="rr" x="2352" y="-4" textLength="155" lengthAdjust="spacingAndGlyphs">D--CIASLW</text><text class="rr" x="2516" y="-4" textLength="494" lengthAdjust="spacingAndGlyphs">Q---------------------------R</text><text class="rs" x="3072" textLength="399" lengthAdjust="spacingAndGlyphs">FEGPVSHVAEYKS------GA</text><text class="rs" x="3505" textLength="153" lengthAdjust="spacingAndGlyphs">GCGNSGME</text><text class="rs" x="3691" textLength="212" lengthAdjust="spacingAndGlyphs">DAVILATGYQS</text></g>
<g transform="translate(0,1297)"><text class="rn" x="2107" y="-2">OnFMO4</text><text class="rs" x="2141" textLength="155" lengthAdjust="spacingAndGlyphs">GAGPSGLA</text><text class="rr" x="2352" y="-4" textLength="155" lengthAdjust="spacingAndGlyphs">N--CIASLW</text><text class="rr" x="2516" y="-4" textLength="494" lengthAdjust="spacingAndGlyphs">Q---------------------------L</text><text class="rs" x="3072" textLength="399" lengthAdjust="spacingAndGlyphs">FKGTVMHTSSYKS------GG</text><text class="rs" x="3505" textLength="153" lengthAdjust="spacingAndGlyphs">GSGNSGME</text><text class="rs" x="3691" textLength="212" lengthAdjust="spacingAndGlyphs">DVIVLATGYKS</text></g>
<g transform="translate(0,1353)"><text class="rn" x="2107" y="-2">OnFMO14</text><text class="rs" x="2141" textLength="155" lengthAdjust="spacingAndGlyphs">GAGPSGLA</text><text class="rr" x="2352" y="-4" textLength="155" lengthAdjust="spacingAndGlyphs">S--CLAPLW</text><text class="rr" x="2516" y="-4" textLength="494" lengthAdjust="spacingAndGlyphs">Q---------------------------L</text><text class="rs" x="3072" textLength="399" lengthAdjust="spacingAndGlyphs">FRGSVIHTSAYKS------GS</text><text class="rs" x="3505" textLength="153" lengthAdjust="spacingAndGlyphs">GCGNSGME</text><text class="rs" x="3691" textLength="212" lengthAdjust="spacingAndGlyphs">DAIVLATGYKS</text></g>
<g transform="translate(0,1409)"><text class="rn" x="2107" y="-2">OnFMO5</text><text class="rs" x="2141" textLength="155" lengthAdjust="spacingAndGlyphs">GAGMAGLA</text><text class="rr" x="2352" y="-4" textLength="155" lengthAdjust="spacingAndGlyphs">G--DVGGQW</text><text class="rr" x="2516" y="-4" textLength="494" lengthAdjust="spacingAndGlyphs">LYDDPRADDDDEDPLAAAAAAAKPVRVHS</text><text class="rs" x="3072" textLength="399" lengthAdjust="spacingAndGlyphs">WKRRQMHSHWYRV------PD</text><text class="rs" x="3505" textLength="153" lengthAdjust="spacingAndGlyphs">GCGDSGMD</text><text class="rs" x="3691" textLength="212" lengthAdjust="spacingAndGlyphs">DTVMYCTGYRY</text></g>
<g transform="translate(0,1465)"><text class="rn" x="2107" y="-2">OnFMO12</text><text class="rs" x="2141" textLength="155" lengthAdjust="spacingAndGlyphs">GGGLVGLA</text><text class="rr" x="2352" y="-4" textLength="155" lengthAdjust="spacingAndGlyphs">G--GVGGQW</text><text class="rr" x="2516" y="-4" textLength="494" lengthAdjust="spacingAndGlyphs">LYDHTAAIDG-ADPLG-------VAGVQS</text><text class="rs" x="3072" textLength="399" lengthAdjust="spacingAndGlyphs">WPGRQLHSHSYRV------PD</text><text class="rs" x="3505" textLength="153" lengthAdjust="spacingAndGlyphs">GCGFSGKD</text><text class="rs" x="3691" textLength="212" lengthAdjust="spacingAndGlyphs">DTVVYCTGYSY</text></g>
<g transform="translate(0,1521)"><text class="rn" x="2107" y="-2">OnFMO18</text><text class="rs" x="2141" textLength="155" lengthAdjust="spacingAndGlyphs">GAGVSGLA</text><text class="rr" x="2352" y="-4" textLength="155" lengthAdjust="spacingAndGlyphs">G--GVGGQW</text><text class="rr" x="2516" y="-4" textLength="494" lengthAdjust="spacingAndGlyphs">LYDTA--TDA-GDPLD-------VAGVHS</text><text class="rs" x="3072" textLength="399" lengthAdjust="spacingAndGlyphs">WRRRQLHSHSYRV------PD</text><text class="rs" x="3505" textLength="153" lengthAdjust="spacingAndGlyphs">GCGISGKD</text><text class="rs" x="3691" textLength="212" lengthAdjust="spacingAndGlyphs">DAVVYCTGYTY</text></g>
<g transform="translate(0,1577)"><text class="rn" x="2107" y="-2">OnFMO21</text><text class="rs" x="2141" textLength="155" lengthAdjust="spacingAndGlyphs">GAGAAGLV</text><text class="rr" x="2352" y="-4" textLength="155" lengthAdjust="spacingAndGlyphs">V--SVGGTW</text><text class="rr" x="2516" y="-4" textLength="494" lengthAdjust="spacingAndGlyphs">LYDAAPATS---DPL-------AAGAAHS</text><text class="rs" x="3072" textLength="399" lengthAdjust="spacingAndGlyphs">WPGKQMHSHNYRV------PE</text><text class="rs" x="3505" textLength="153" lengthAdjust="spacingAndGlyphs">GASASAVD</text><text class="rs" x="3691" textLength="212" lengthAdjust="spacingAndGlyphs">DVIMHCTGYLY</text></g>
<g transform="translate(0,1633)"><text class="rn" x="2107" y="-2">OnFMO22</text><text class="rs" x="2141" textLength="155" lengthAdjust="spacingAndGlyphs">GAGAAGLV</text><text class="rr" x="2352" y="-4" textLength="155" lengthAdjust="spacingAndGlyphs">A--RVGGTW</text><text class="rr" x="2516" y="-4" textLength="494" lengthAdjust="spacingAndGlyphs">AYDPRSDPY---PPCLD-TAAPGAAAVHG</text><text class="rs" x="3072" textLength="399" lengthAdjust="spacingAndGlyphs">WQGKQMHSHNYRT------PE</text><text class="rs" x="3505" textLength="153" lengthAdjust="spacingAndGlyphs">GLGASGVD</text><text class="rs" x="3691" textLength="212" lengthAdjust="spacingAndGlyphs">DTFLYCTGYRY</text></g>
</svg>
</body></html>
